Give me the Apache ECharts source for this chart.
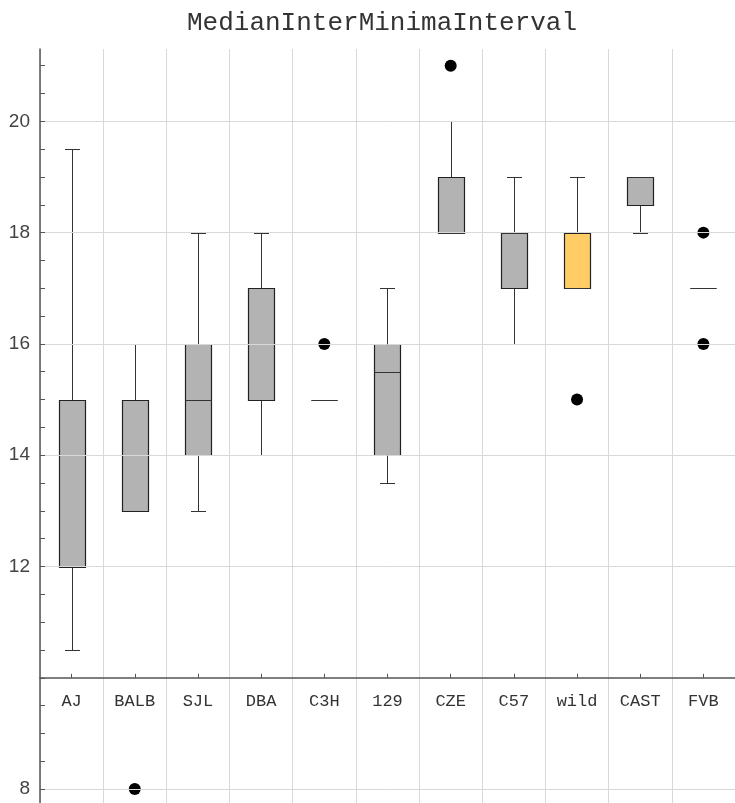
<!DOCTYPE html>
<html>
<head>
<meta charset="utf-8">
<script src="https://cdn.jsdelivr.net/npm/echarts@6/dist/echarts.min.js"></script>
<style>
  html, body { margin: 0; padding: 0; background: #fff; }
  #chart { width: 735px; height: 803px; }
</style>
</head>
<body>
<div id="chart"></div>
<script>
// ---- data ----
const categories = ['AJ', 'BALB', 'SJL', 'DBA', 'C3H', '129', 'CZE', 'C57', 'wild', 'CAST', 'FVB'];
const lowWhisker  = [10.5, 13, 13, 14, 15, 13.5, 18, 16, 17, 18,   17];
const q1          = [12,   13, 14, 15, 15, 14,   18, 17, 17, 18.5, 17];
const median      = [14,   14, 15, 16, 15, 15.5, 18, 18, 17, 19,   17];
const q3          = [15,   15, 16, 17, 15, 16,   19, 18, 18, 19,   17];
const highWhisker = [19.5, 16, 18, 18, 15, 17,   20, 19, 19, 19,   17];
const outlierCategories = ['BALB', 'C3H', 'CZE', 'wild', 'FVB', 'FVB'];
const outlierValues     = [8,      16,    21,    15,     18,    16];
const yTickLabels = [8, 12, 14, 16, 18, 20];
const gridValues  = [8, 12, 14, 16, 18, 20];
const xAxisCrossing = 10;
const highlighted = 'wild';

// ---- layout ----
const Y_MIN = 7.75, Y_MAX = 21.3, Y_STEP = 0.5;
const H = 803;
const GRID_TOP = 49, GRID_BOTTOM = 0, GRID_LEFT = 40, GRID_RIGHT = 0;
const gridH = H - GRID_TOP - GRID_BOTTOM;
const crossOffset = -((xAxisCrossing - Y_MIN) / (Y_MAX - Y_MIN)) * gridH;

const boxData = categories.map((c, i) => [i, lowWhisker[i], q1[i], median[i], q3[i], highWhisker[i]]);
const outlierData = outlierCategories.map((c, i) => [c, outlierValues[i]]);

const chart = echarts.init(document.getElementById('chart'), null, { renderer: 'canvas' });

function renderBox(params, api) {
  const i = api.value(0);
  const x = Math.round(api.coord([i, 0])[0]) + 0.5;
  const yy = v => Math.round(api.coord([i, v])[1]) + 0.5;
  const yLow = yy(api.value(1));
  const yQ1 = yy(api.value(2));
  const yMed = yy(api.value(3));
  const yQ3 = yy(api.value(4));
  const yHigh = yy(api.value(5));
  const bw = 13, cw = 7.5;
  const fill = categories[i] === highlighted ? '#ffcc66' : '#b3b3b3';
  const wStyle = { stroke: '#333', lineWidth: 1 };
  const children = [];
  if (yLow !== yQ1) {
    children.push({ type: 'line', shape: { x1: x, y1: yLow, x2: x, y2: yQ1 }, style: wStyle });
    children.push({ type: 'line', shape: { x1: x - cw, y1: yLow, x2: x + cw, y2: yLow }, style: wStyle });
  }
  if (yHigh !== yQ3) {
    children.push({ type: 'line', shape: { x1: x, y1: yHigh, x2: x, y2: yQ3 }, style: wStyle });
    children.push({ type: 'line', shape: { x1: x - cw, y1: yHigh, x2: x + cw, y2: yHigh }, style: wStyle });
  }
  children.push({
    type: 'rect',
    shape: { x: x - bw, y: yQ3, width: 2 * bw, height: yQ1 - yQ3 },
    style: { fill: fill, stroke: '#222', lineWidth: 1.2 }
  });
  children.push({ type: 'line', shape: { x1: x - bw, y1: yMed, x2: x + bw, y2: yMed }, style: { stroke: '#333', lineWidth: 1 } });
  return { type: 'group', children: children };
}

const option = {
  animation: false,
  backgroundColor: '#ffffff',
  title: {
    text: 'MedianInterMinimaInterval',
    left: 182,
    top: 5,
    textStyle: { fontFamily: 'Liberation Mono', fontSize: 26, fontWeight: 'normal', color: '#333' }
  },
  grid: { top: GRID_TOP, bottom: GRID_BOTTOM, left: GRID_LEFT, right: GRID_RIGHT, containLabel: false },
  xAxis: {
    type: 'category',
    data: categories,
    boundaryGap: true,
    position: 'bottom',
    offset: crossOffset,
    z: 5,
    axisLine: { show: true, onZero: false, lineStyle: { color: '#555', width: 1.5 } },
    axisTick: { show: true, inside: true, length: 4, alignWithLabel: true, lineStyle: { color: '#555' } },
    axisLabel: { margin: 15, fontFamily: 'Liberation Mono', fontSize: 17, color: '#333' },
    splitLine: { show: true, lineStyle: { color: '#d9d9d9', width: 1 } }
  },
  yAxis: {
    type: 'value',
    min: Y_MIN,
    max: Y_MAX,
    splitNumber: 27,
    minInterval: Y_STEP,
    maxInterval: Y_STEP,
    z: 5,
    axisLine: { show: true, lineStyle: { color: '#555', width: 1.5 } },
    axisTick: { show: true, inside: true, length: 5, lineStyle: { color: '#555' } },
    axisLabel: {
      margin: 10,
      fontFamily: 'Liberation Sans',
      fontSize: 19,
      color: '#444',
      showMinLabel: false,
      showMaxLabel: false,
      formatter: v => (yTickLabels.indexOf(Math.round(v * 100) / 100) >= 0 ? String(Math.round(v)) : '')
    },
    splitLine: { show: false }
  },
  series: [
    {
      type: 'line',
      data: [],
      z: 1,
      silent: true,
      markLine: {
        silent: true,
        symbol: 'none',
        label: { show: false },
        lineStyle: { color: '#d9d9d9', type: 'solid', width: 1 },
        data: gridValues.map(v => ({ yAxis: v }))
      }
    },
    {
      type: 'custom',
      z: 3,
      renderItem: renderBox,
      encode: { x: 0, y: [1, 2, 3, 4, 5] },
      data: boxData
    },
    {
      type: 'scatter',
      z: 4,
      symbol: 'circle',
      symbolSize: 12,
      itemStyle: { color: '#000', opacity: 1 },
      data: outlierData
    }
  ]
};
chart.setOption(option);
</script>
</body>
</html>
